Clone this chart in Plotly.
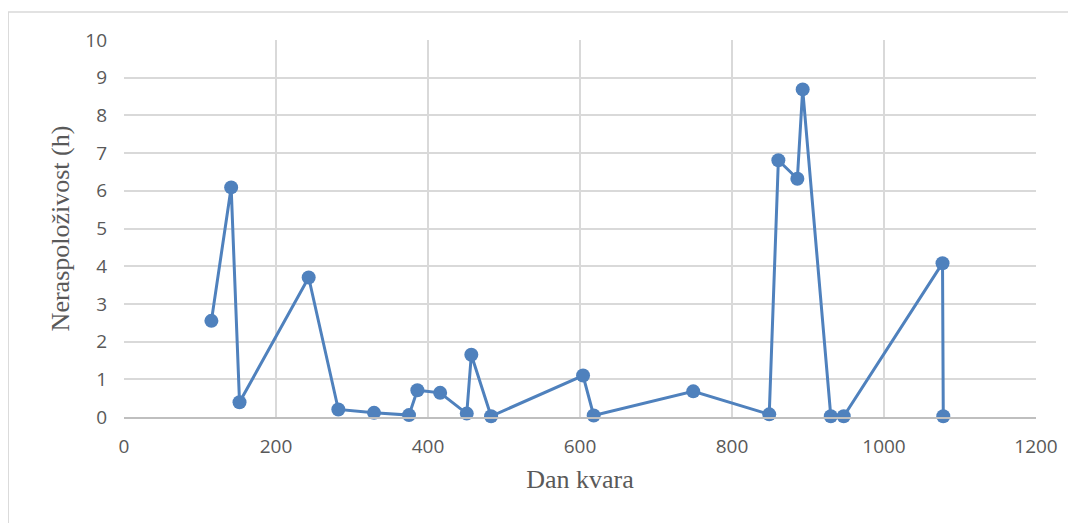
import plotly.graph_objects as go

# dan kvara (x) i neraspoloživost u satima (y)
dan_kvara = [115, 141, 152, 243, 282, 329, 375, 386, 416, 451, 457, 483,
             604, 618, 749, 849, 861, 886, 893, 930, 947, 1077, 1078]
neraspolozivost = [2.55, 6.09, 0.39, 3.70, 0.20, 0.11, 0.05, 0.71, 0.64, 0.09, 1.65, 0.02,
                   1.10, 0.04, 0.68, 0.07, 6.81, 6.32, 8.69, 0.02, 0.02, 4.08, 0.02]

x_ticks = [0, 200, 400, 600, 800, 1000, 1200]
y_ticks = list(range(0, 11))

blue = "#4f81bd"
grid = "#d9d9d9"
serif = dict(family="Liberation Serif", size=26, color="#595959")

fig = go.Figure()
fig.add_trace(go.Scatter(
    x=dan_kvara,
    y=neraspolozivost,
    mode="lines+markers",
    line=dict(color=blue, width=3),
    marker=dict(color=blue, size=14),
    showlegend=False,
    cliponaxis=False,
))

# stranica ima 8px margine, pa je sve pomaknuto za 8
fig.update_layout(
    width=1076,
    height=523,
    margin=dict(l=116, r=48, t=32, b=114),
    plot_bgcolor="white",
    paper_bgcolor="white",
    font=dict(family="Open Sans", size=19, color="#595959"),
)

fig.update_xaxes(
    range=[0, 1200],
    tickvals=x_ticks,
    showgrid=True,
    gridcolor=grid,
    gridwidth=1.5,
    zeroline=False,
    showline=True,
    linecolor="#bfbfbf",
    linewidth=1.5,
    ticks="",
    ticklabelstandoff=11,
    title=dict(text="Dan kvara", font=serif, standoff=12),
)
fig.update_yaxes(
    range=[0, 10],
    tickvals=y_ticks,
    showgrid=True,
    gridcolor=grid,
    gridwidth=1.5,
    zeroline=False,
    showline=False,
    ticks="",
    ticklabelstandoff=16,
    title=dict(text="Neraspoloživost (h)", font=serif, standoff=8),
)

# okvir grafikona
fig.add_shape(type="rect", xref="paper", yref="paper",
              x0=-0.127, x1=1.06, y0=-0.4, y1=1.074,
              line=dict(color="#d9d9d9", width=1.5), layer="below")

fig.write_html("out.html")
